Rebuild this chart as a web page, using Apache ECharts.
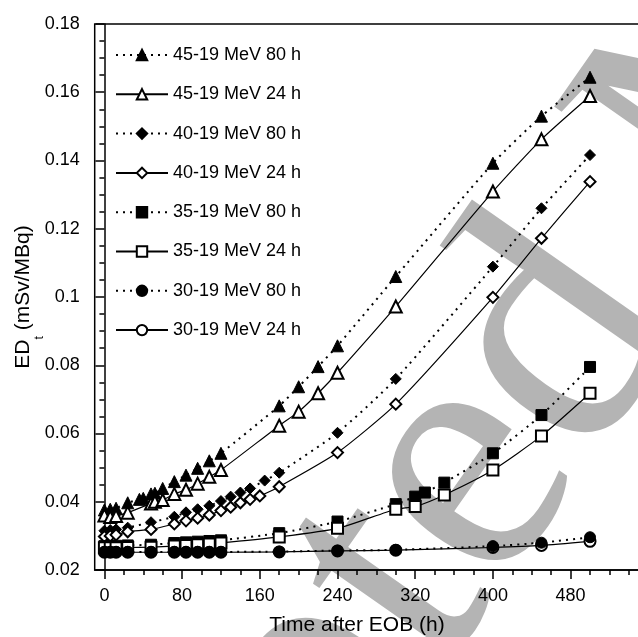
<!DOCTYPE html>
<html>
<head>
<meta charset="UTF-8">
<script src="https://cdn.jsdelivr.net/npm/echarts@6/dist/echarts.min.js"></script>
<title>ED vs time after EOB</title>
<style>
  html, body { margin: 0; padding: 0; background: #fff; }
  #main { width: 638px; height: 637px; }
</style>
</head>
<body>
<div id="main"></div>
<script type="text/javascript">
// data (time in h, ED in mSv/MBq)
var t45_80 = [0, 6, 12, 24, 36, 40, 48, 52, 60, 72, 84, 96, 108, 120, 180, 200, 220, 240, 300, 400, 450, 500];
var v45_80 = [0.0376, 0.0378, 0.0381, 0.0397, 0.0407, 0.0410, 0.0423, 0.0425, 0.0439, 0.0459, 0.0478, 0.0498, 0.0520, 0.0542, 0.0681, 0.0737, 0.0796, 0.0857, 0.1060, 0.1392, 0.1530, 0.1644];

var t45_24 = [0, 6, 12, 24, 48, 52, 60, 72, 84, 96, 108, 120, 180, 200, 220, 240, 300, 400, 450, 500];
var v45_24 = [0.0360, 0.0355, 0.0358, 0.0368, 0.0395, 0.0400, 0.0405, 0.0423, 0.0435, 0.0453, 0.0473, 0.0493, 0.0623, 0.0664, 0.0718, 0.0778, 0.0972, 0.1309, 0.1462, 0.1589];

var t40_80 = [0, 6, 12, 24, 48, 72, 84, 96, 108, 120, 130, 140, 150, 165, 180, 240, 300, 400, 450, 500];
var v40_80 = [0.0315, 0.0317, 0.0319, 0.0324, 0.0340, 0.0356, 0.0369, 0.0378, 0.0388, 0.0402, 0.0415, 0.0427, 0.0439, 0.0462, 0.0485, 0.0602, 0.0760, 0.1089, 0.1260, 0.1416];

var t40_24 = [0, 6, 12, 24, 48, 72, 84, 96, 108, 120, 130, 140, 150, 160, 180, 240, 300, 400, 450, 500];
var v40_24 = [0.0298, 0.0300, 0.0303, 0.0312, 0.0319, 0.0335, 0.0344, 0.0352, 0.0361, 0.0374, 0.0384, 0.0397, 0.0407, 0.0417, 0.0444, 0.0544, 0.0686, 0.0999, 0.1172, 0.1338];

var t35_80 = [0, 6, 12, 24, 48, 72, 84, 96, 108, 120, 180, 240, 300, 320, 330, 350, 400, 450, 500];
var v35_80 = [0.0270, 0.0270, 0.0271, 0.0272, 0.0274, 0.0279, 0.0281, 0.0283, 0.0285, 0.0287, 0.0308, 0.0342, 0.0393, 0.0415, 0.0427, 0.0456, 0.0542, 0.0654, 0.0795];

var t35_24 = [0, 6, 12, 24, 48, 72, 84, 96, 108, 120, 180, 240, 300, 320, 350, 400, 450, 500];
var v35_24 = [0.0265, 0.0265, 0.0265, 0.0266, 0.0267, 0.0270, 0.0272, 0.0274, 0.0276, 0.0279, 0.0297, 0.0322, 0.0378, 0.0386, 0.0420, 0.0493, 0.0593, 0.0718];

var t30 = [0, 6, 12, 24, 48, 72, 84, 96, 108, 120, 180, 240, 300, 400, 450, 500];
var v30_80 = [0.0253, 0.0253, 0.0253, 0.0253, 0.0253, 0.0253, 0.0253, 0.0253, 0.0253, 0.0253, 0.0254, 0.0257, 0.0259, 0.0270, 0.0280, 0.0296];
var v30_24 = [0.0252, 0.0252, 0.0252, 0.0252, 0.0252, 0.0252, 0.0252, 0.0252, 0.0252, 0.0252, 0.0253, 0.0256, 0.0258, 0.0266, 0.0272, 0.0284];

var names = ['45-19 MeV 80 h', '45-19 MeV 24 h', '40-19 MeV 80 h', '40-19 MeV 24 h',
             '35-19 MeV 80 h', '35-19 MeV 24 h', '30-19 MeV 80 h', '30-19 MeV 24 h'];

var xMajor = [0, 80, 160, 240, 320, 400, 480];
var xMinor = [20, 40, 60, 100, 120, 140, 180, 200, 220, 260, 280, 300, 340, 360, 380, 420, 440, 460, 500, 520, 540];

function pairs(t, v) {
  var out = [];
  for (var i = 0; i < t.length; i++) out.push([t[i], v[i]]);
  return out;
}

var dotted = { color: '#000', width: 2, type: [2, 5] };
var solid = { color: '#000', width: 1.2, type: 'solid' };

function mk(name, t, v, symbol, size, lineStyle, z) {
  return {
    name: name,
    type: 'line',
    data: pairs(t, v),
    symbol: symbol,
    symbolSize: size,
    smooth: 0.2,
    showAllSymbol: true,
    lineStyle: lineStyle,
    itemStyle: { color: '#000', borderColor: '#000', borderWidth: 1 },
    z: z || 2,
    animation: false
  };
}

var myChart = echarts.init(document.getElementById('main'));
var font = 'Liberation Sans';

var option = {
  animation: false,
  grid: {
    left: 94.7, top: 24, width: 553.6, height: 546,
    show: true, borderColor: '#000', borderWidth: 1.5,
    containLabel: false, outerBoundsMode: 'none'
  },
  legend: {
    data: names,
    orient: 'vertical',
    left: 110, top: 41,
    itemWidth: 52, itemHeight: 13, itemGap: 21.3,
    textStyle: { fontFamily: font, fontSize: 18, color: '#000' },
    selectedMode: false
  },
  xAxis: [{
    type: 'value', min: -10, max: 560,
    name: 'Time after EOB (h)', nameLocation: 'middle', nameGap: 45,
    nameTextStyle: { fontFamily: font, fontSize: 21, color: '#000', padding: [0, 29, 0, 0] },
    axisLine: { lineStyle: { color: '#000', width: 1.5 } },
    axisTick: { show: true, length: 9, lineStyle: { color: '#000', width: 1.5 }, customValues: xMajor },
    axisLabel: { fontFamily: font, fontSize: 18, color: '#000', margin: 17, customValues: xMajor },
    splitLine: { show: false }
  }, {
    type: 'value', min: -10, max: 560, position: 'bottom',
    axisLine: { show: false },
    axisTick: { show: true, length: 5, lineStyle: { color: '#000', width: 1.5 }, customValues: xMinor },
    axisLabel: { show: false },
    splitLine: { show: false }
  }],
  yAxis: {
    type: 'value', min: 0.02, max: 0.18, interval: 0.02,
    name: '{a|ED}{s|t}{a| (mSv/MBq)}', nameLocation: 'middle', nameGap: 49,
    nameMoveOverlap: false,
    nameTextStyle: {
      rich: {
        a: { fontFamily: font, fontSize: 21, color: '#000', lineHeight: 22, verticalAlign: 'top' },
        s: { fontFamily: font, fontSize: 12, color: '#000', lineHeight: 33, verticalAlign: 'bottom' }
      }
    },
    axisLine: { lineStyle: { color: '#000', width: 1.5 } },
    axisTick: { length: 9, lineStyle: { color: '#000', width: 1.5 } },
    minorTick: { show: true, splitNumber: 4, length: 5, lineStyle: { color: '#000', width: 1.5 } },
    axisLabel: {
      fontFamily: font, fontSize: 18, color: '#000', margin: 15,
      formatter: function (v) { return String(+v.toFixed(2)); }
    },
    splitLine: { show: false }
  },
  graphic: [{
    type: 'text', x: -12, y: 1467, rotation: 55 * Math.PI / 180, z: -10, silent: true,
    style: { text: 'Accepted Manuscript', font: '355px "Liberation Serif"', fill: '#b4b4b4', align: 'left', verticalAlign: 'bottom' }
  }],
  series: [
    mk(names[0], t45_80, v45_80, 'triangle', 12, dotted),
    mk(names[1], t45_24, v45_24, 'emptyTriangle', 12, solid),
    mk(names[2], t40_80, v40_80, 'diamond', 11, dotted),
    mk(names[3], t40_24, v40_24, 'emptyDiamond', 11, solid),
    mk(names[4], t35_80, v35_80, 'rect', 11, dotted),
    mk(names[5], t35_24, v35_24, 'emptyRect', 11, solid),
    mk(names[6], t30, v30_80, 'circle', 11, dotted, 3),
    mk(names[7], t30, v30_24, 'emptyCircle', 11, solid)
  ]
};
myChart.setOption(option);
</script>
</body>
</html>
